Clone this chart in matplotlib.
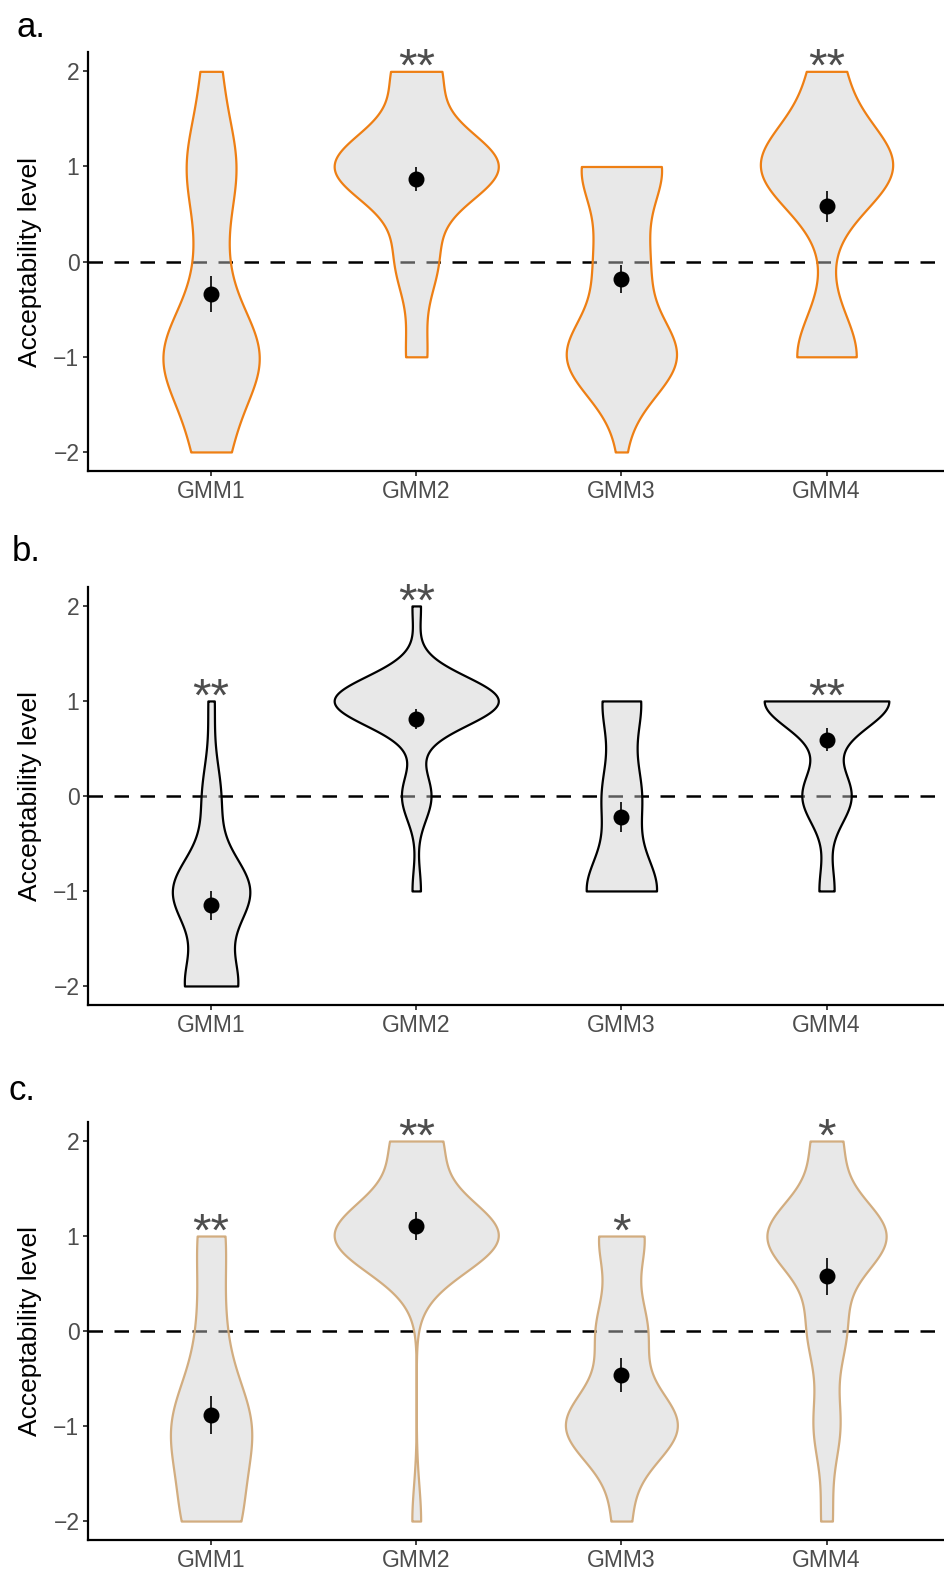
import numpy as np
import matplotlib
matplotlib.use("Agg")
import matplotlib.pyplot as plt

plt.rcParams["font.family"] = ["Liberation Sans", "DejaVu Sans"]

# response levels and the four models
levels = np.array([-2, -1, 0, 1, 2])
categories = ["GMM1", "GMM2", "GMM3", "GMM4"]

# panel a: counts per level (-2..2), kde bandwidth, mean and se of each model
counts_a = [[7, 22, 5, 11, 4], [0, 3, 6, 24, 7], [1, 18, 8, 13, 0], [0, 16, 1, 35, 8]]
bw_a = [0.5, 0.37, 0.42, 0.45]
mean_a = [-0.34, 0.868, -0.184, 0.58]
se_a = [0.193, 0.13, 0.15, 0.165]
sig_a = ["", "**", "", "**"]

# panel b
counts_b = [[17, 25, 6, 2, 0], [0, 2, 7, 39, 2], [0, 24, 13, 13, 0], [0, 4, 13, 33, 0]]
bw_b = [0.36, 0.26, 0.38, 0.29]
mean_b = [-1.151, 0.813, -0.225, 0.591]
se_b = [0.15, 0.107, 0.158, 0.12]
sig_b = ["**", "**", "", "**"]

# panel c
counts_c = [[12, 17, 5, 6, 0], [2, 0, 0, 37, 11], [4, 25, 11, 10, 0], [3, 7, 10, 32, 8]]
bw_c = [0.5, 0.38, 0.38, 0.38]
mean_c = [-0.887, 1.109, -0.465, 0.574]
se_c = [0.2, 0.146, 0.176, 0.194]
sig_c = ["**", "**", "*", "*"]


def violin_stats(counts, bw):
    # gaussian kde, trimmed to the range of the responses
    x = np.repeat(levels, counts).astype(float)
    ys = np.linspace(x.min(), x.max(), 512)
    z = (ys[:, None] - x[None, :]) / bw
    dens = np.exp(-0.5 * z ** 2).sum(axis=1) / (len(x) * bw * np.sqrt(2 * np.pi))
    return {"coords": ys, "vals": dens, "mean": x.mean(), "median": np.median(x),
            "min": x.min(), "max": x.max()}


def draw_panel(ax, counts, bws, means, ses, sigs, edge):
    pos = np.arange(1, len(categories) + 1)
    ax.axhline(0, color="black", lw=1.8, dashes=(5.8, 4.6), zorder=1)

    stats = [violin_stats(c, b) for c, b in zip(counts, bws)]
    peak = np.array([s["vals"].max() for s in stats])
    parts = ax.violin(stats, positions=pos, widths=0.8 * peak / peak.max(),
                      showextrema=False)
    for body in parts["bodies"]:
        body.set_alpha(None)
        body.set_facecolor((0.8, 0.8, 0.8, 0.45))
        body.set_edgecolor(edge)
        body.set_linewidth(1.6)
        body.set_zorder(2)

    ax.errorbar(pos, means, yerr=ses, fmt="o", color="black", ms=10.5,
                elinewidth=1.2, capsize=0, zorder=3)

    for p, s, txt in zip(pos, stats, sigs):
        if txt:
            ax.text(p, s["max"] - 0.10, txt, ha="center", va="baseline",
                    fontsize=34, color="#4D4D4D", zorder=4)

    ax.set_xlim(0.4, 4.6)
    ax.set_ylim(-2.2, 2.2)
    ax.set_xticks(pos, categories)
    ax.set_yticks([-2, -1, 0, 1, 2])
    for side in ["top", "right"]:
        ax.spines[side].set_visible(False)
    for side in ["left", "bottom"]:
        ax.spines[side].set_linewidth(1.6)
        ax.spines[side].set_color("black")
    ax.tick_params(length=3.6, width=1.3, color="#333333", labelsize=16.5,
                   labelcolor="#4D4D4D", pad=2.6)
    ax.set_ylabel("Acceptability level", fontsize=19, color="black")
    ax.yaxis.set_label_coords(-0.0537, 0.5)


fig = plt.figure(figsize=(9.44, 15.71), dpi=100)

left = 88 / 944
width = (949.6 - 88) / 944
ax_a = fig.add_axes([left, 0.7002, width, 0.2665])
ax_b = fig.add_axes([left, 0.3603, width, 0.2661])
ax_c = fig.add_axes([left, 0.0197, width, 0.2661])

draw_panel(ax_a, counts_a, bw_a, mean_a, se_a, sig_a, "#EE7F14")
draw_panel(ax_b, counts_b, bw_b, mean_b, se_b, sig_b, "black")
draw_panel(ax_c, counts_c, bw_c, mean_c, se_c, sig_c, "#D2AD80")

fig.text(17 / 944, 1 - 36.7 / 1571, "a.", fontsize=25, va="baseline")
fig.text(12 / 944, 1 - 560.7 / 1571, "b.", fontsize=25, va="baseline")
fig.text(8 / 944, 1 - 1100 / 1571, "c.", fontsize=25, va="baseline")

fig.savefig("out.png", dpi=100)
